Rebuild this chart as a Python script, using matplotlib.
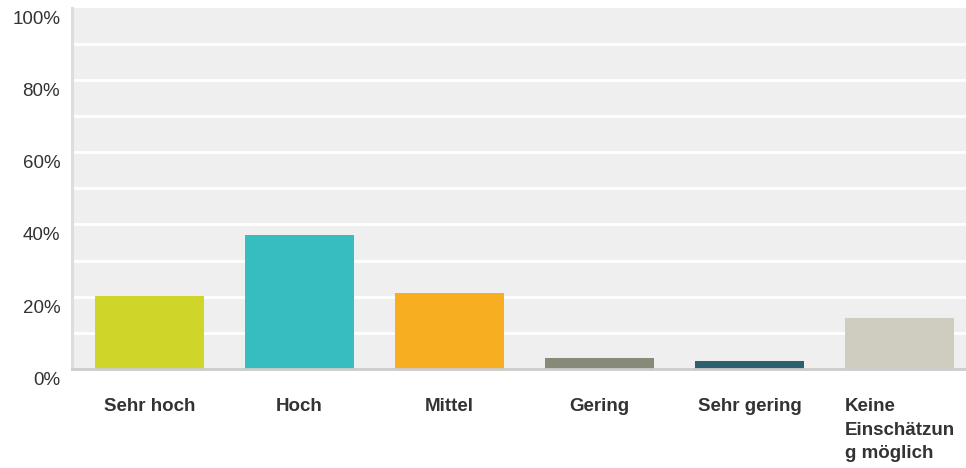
import matplotlib.pyplot as plt
import matplotlib.transforms as mtransforms

# Werte (in %)
categories = ["Sehr hoch", "Hoch", "Mittel", "Gering", "Sehr gering", "Keine\nEinschätzun\ng möglich"]
values = [20.3, 37.2, 21.1, 3.1, 2.2, 14.2]
colors = ["#d0d52a", "#35bdbf", "#f7ae20", "#878a78", "#2e5f6e", "#cfcdbf"]
y_ticks = [0, 20, 40, 60, 80, 100]
y_labels = ["0%", "20%", "40%", "60%", "80%", "100%"]

plt.rcParams["font.family"] = ["Liberation Sans", "DejaVu Sans"]

fig = plt.figure(figsize=(9.66, 4.68), dpi=100)
ax = fig.add_axes([72 / 966, 1 - 369 / 468, 1 - 72 / 966, (369 - 7.5) / 468])
ax.set_facecolor("#efefef")

x = range(len(categories))
ax.bar(x, values, width=0.727, color=colors, zorder=3)

ax.set_xlim(-0.517, 5.443)
ax.set_ylim(0, 100)

# weisse Gitterlinien alle 10 %
for g in range(10, 100, 10):
    ax.axhline(g, color="white", linewidth=2, zorder=1)

ax.set_yticks(y_ticks)
ax.set_yticklabels(y_labels, fontsize=13.5, color="#333333")
ax.tick_params(axis="y", length=0, pad=8.5)
ax.set_xticks(list(x))
ax.set_xticklabels(categories, fontsize=13.5, fontweight="bold", color="#333333",
                   va="top", linespacing=1.5)
ax.tick_params(axis="x", length=0, pad=21)

# y-Labels etwas unter die Linie verschieben
shift = mtransforms.ScaledTranslation(0, -9.5 / 100, fig.dpi_scale_trans)
for lbl in ax.get_yticklabels():
    lbl.set_transform(lbl.get_transform() + shift)

# letztes Label linksbuendig an der Balkenkante
last = ax.get_xticklabels()[-1]
last.set_horizontalalignment("left")
last.set_transform(last.get_transform() + mtransforms.ScaledTranslation(-54.5 / 100, 0, fig.dpi_scale_trans))

for side in ["top", "right"]:
    ax.spines[side].set_visible(False)
ax.spines["left"].set_color("#dddddd")
ax.spines["left"].set_linewidth(2.2)
ax.spines["bottom"].set_color("#cccccc")
ax.spines["bottom"].set_linewidth(2)
ax.spines["bottom"].set_zorder(4)

fig.savefig("out.png", dpi=100)
